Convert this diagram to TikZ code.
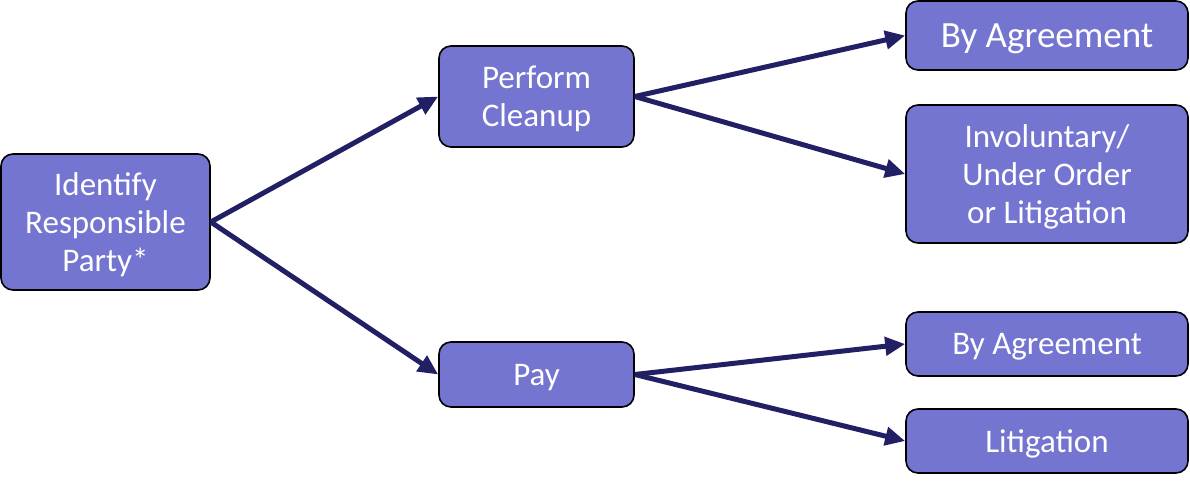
\documentclass[tikz,border=0pt]{standalone}
\usepackage{fontspec}
\setmainfont{Carlito}
\usetikzlibrary{arrows.meta}
\definecolor{boxfill}{HTML}{7474D1}
\definecolor{navy}{HTML}{212064}

\begin{document}
\begin{tikzpicture}[x=1pt,y=-1pt,
 every node/.style={font=\fontsize{33}{38}\selectfont,text=white,align=center},
 box/.style={draw=black,line width=1.6pt,fill=boxfill,rounded corners=12pt,inner sep=0pt,text depth=0pt},
 link/.style={navy,line width=5pt,-{Triangle[length=20pt,width=18pt]}}]
 \useasboundingbox (0,0) rectangle (1190,481);
 \node[box,minimum width=209pt,minimum height=136pt] (ident) at (105.5,222) {Identify\\Responsible\\Party*};
 \node[box,minimum width=195pt,minimum height=101pt] (clean) at (536.5,96.5) {Perform\\Cleanup};
 \node[box,minimum width=195pt,minimum height=65pt] (pay) at (536.5,374.5) {Pay};
 \node[box,minimum width=282pt,minimum height=69pt,font=\fontsize{37}{42}\selectfont] (agreeA) at (1047,35.5) {By Agreement};
 \node[box,minimum width=282pt,minimum height=138pt] (invol) at (1047,174) {Involuntary/\\Under Order\\or Litigation};
 \node[box,minimum width=282pt,minimum height=64pt] (agreeB) at (1047,344) {By Agreement};
 \node[box,minimum width=282pt,minimum height=64pt] (litig) at (1047,441) {Litigation};
 \draw[link] (ident.east) -- (clean.west);
 \draw[link] (ident.east) -- (pay.west);
 \draw[link] (clean.east) -- (agreeA.west);
 \draw[link] (clean.east) -- (invol.west);
 \draw[link] (pay.east) -- (agreeB.west);
 \draw[link] (pay.east) -- (litig.west);
\end{tikzpicture}
\end{document}
